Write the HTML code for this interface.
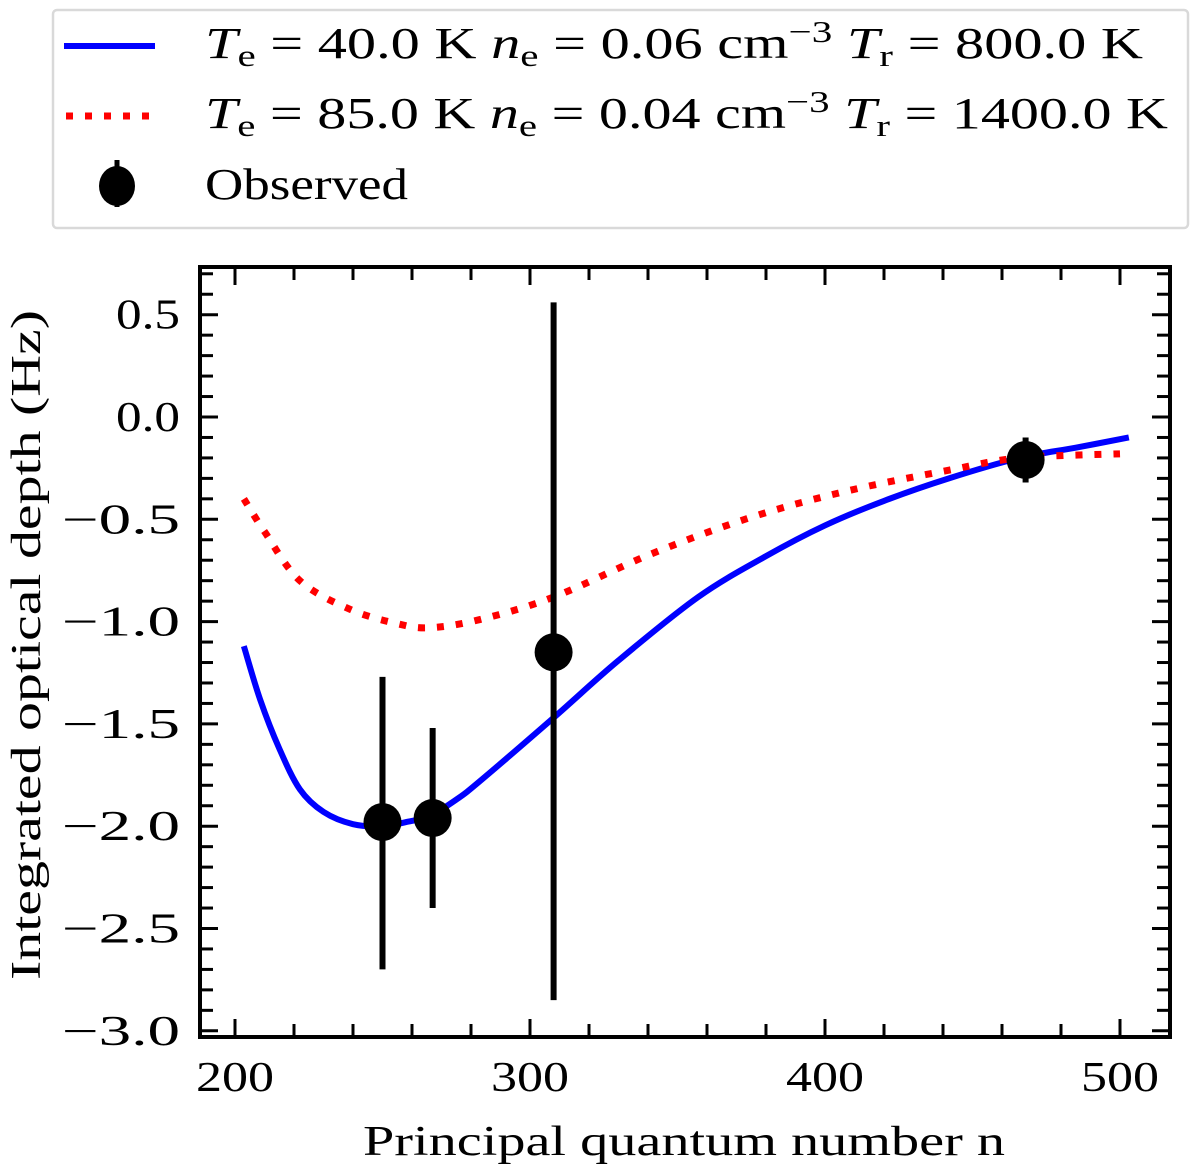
<!DOCTYPE html>
<html><head><meta charset="utf-8"><style>
body{margin:0;background:#fff;}
svg{display:block;font-family:"Liberation Serif","DejaVu Serif",serif;}
</style></head><body>
<svg id="chart" width="1200" height="1173" viewBox="0 0 1200 1173">
<rect x="53" y="10" width="1135" height="218" rx="4" fill="#fff" stroke="#d9d9d9" stroke-width="2.5"/>
<g>
<line x1="64" y1="46" x2="155" y2="46" stroke="#0000ff" stroke-width="6"/>
<text x="205" y="58" font-size="44" textLength="938" lengthAdjust="spacingAndGlyphs"><tspan font-style="italic">T</tspan><tspan font-size="31" dy="8">e</tspan><tspan dy="-8"> = 40.0 K </tspan><tspan font-style="italic">n</tspan><tspan font-size="31" dy="8">e</tspan><tspan dy="-8"> = 0.06 cm</tspan><tspan font-size="31" dy="-16">−3</tspan><tspan dy="16"> </tspan><tspan font-style="italic">T</tspan><tspan font-size="31" dy="8">r</tspan><tspan dy="-8"> = 800.0 K</tspan></text>
</g>
<g>
<line x1="66" y1="116" x2="155" y2="116" stroke="#ff0000" stroke-width="7" stroke-dasharray="7,12"/>
<text x="205" y="128" font-size="44" textLength="963" lengthAdjust="spacingAndGlyphs"><tspan font-style="italic">T</tspan><tspan font-size="31" dy="8">e</tspan><tspan dy="-8"> = 85.0 K </tspan><tspan font-style="italic">n</tspan><tspan font-size="31" dy="8">e</tspan><tspan dy="-8"> = 0.04 cm</tspan><tspan font-size="31" dy="-16">−3</tspan><tspan dy="16"> </tspan><tspan font-style="italic">T</tspan><tspan font-size="31" dy="8">r</tspan><tspan dy="-8"> = 1400.0 K</tspan></text>
</g>
<g>
<line x1="117" y1="160" x2="117" y2="207" stroke="#000" stroke-width="5"/>
<ellipse cx="117" cy="186" rx="18" ry="20" fill="#000"/>
<text x="205" y="199" font-size="44" textLength="203" lengthAdjust="spacingAndGlyphs">Observed</text>
</g>
<g id="plot"></g>
<rect x="200" y="267" width="970" height="770" fill="none" stroke="#000" stroke-width="4"/>
<text x="363" y="1155" font-size="42" textLength="642" lengthAdjust="spacingAndGlyphs">Principal quantum number n</text>
<text transform="translate(40,980) rotate(-90)" font-size="42" textLength="670" lengthAdjust="spacingAndGlyphs">Integrated optical depth (Hz)</text>
</svg>
<script>
const blueN=[203,208.5,215,222,230,240,250,258,266,275,283,308,330,357,380,400,420,442,466,485,503];
const blueV=[-1.12,-1.38,-1.62,-1.82,-1.93,-1.99,-2.0,-1.98,-1.95,-1.87,-1.78,-1.47,-1.19,-0.88,-0.68,-0.53,-0.41,-0.30,-0.20,-0.15,-0.10];
const redN=[203,210,222,239,255,266,283,308,341,375,408,442,466,500];
const redV=[-0.40,-0.56,-0.80,-0.94,-1.01,-1.03,-0.99,-0.88,-0.67,-0.49,-0.36,-0.26,-0.20,-0.18];
const obsN=[250,267,308,468];
const obsV=[-1.98,-1.96,-1.15,-0.21];
const obsLo=[-2.70,-2.40,-2.85,-0.32];
const obsHi=[-1.27,-1.52,0.56,-0.10];
const xTicks=[200,300,400,500];
const yTicks=[0.5,0.0,-0.5,-1.0,-1.5,-2.0,-2.5,-3.0];
const NS="http://www.w3.org/2000/svg";
const X=n=>235+(n-200)*2.95;
const Y=v=>417-v*204.6;
const g=document.getElementById('plot');
function mk(t,a){const e=document.createElementNS(NS,t);for(const k in a)e.setAttribute(k,a[k]);g.appendChild(e);return e;}
for(let n=200;n<=500;n+=20){const maj=n%100===0,L=maj?18:13;
 const t1=mk('line',{x1:X(n),x2:X(n),y1:1037,y2:1037-L,stroke:'#000','stroke-width':3});
 
 
 const t2=mk('line',{x1:X(n),x2:X(n),y1:267,y2:267+L,stroke:'#000','stroke-width':3});
 
 }
for(let i=-30;i<=7;i++){const v=i/10,maj=i%5===0,L=maj?18:13;
 const t1=mk('line',{x1:200,x2:200+L,y1:Y(v),y2:Y(v),stroke:'#000','stroke-width':3});
 
 
 const t2=mk('line',{x1:1170,x2:1170-L,y1:Y(v),y2:Y(v),stroke:'#000','stroke-width':3});
 
 }
xTicks.forEach(n=>{const t=mk('text',{x:X(n)-39,y:1091,'font-size':42,textLength:78,lengthAdjust:'spacingAndGlyphs'});t.textContent=n;
 
 });
yTicks.forEach(v=>{const neg=v<0,w=neg?118:64;const t=mk('text',{x:180-w,y:Y(v)+14,'font-size':42,textLength:w,lengthAdjust:'spacingAndGlyphs'});t.textContent=(neg?'−':'')+Math.abs(v).toFixed(1);
 
 });
function smooth(ns,vs){const p=ns.map((n,i)=>[X(n),Y(vs[i])]);let d=`M${p[0][0]},${p[0][1]}`;
 for(let i=0;i<p.length-1;i++){const p0=p[i-1]||p[i],p1=p[i],p2=p[i+1],p3=p[i+2]||p2;
 d+=` C${p1[0]+(p2[0]-p0[0])/6},${p1[1]+(p2[1]-p0[1])/6} ${p2[0]-(p3[0]-p1[0])/6},${p2[1]-(p3[1]-p1[1])/6} ${p2[0]},${p2[1]}`;}return d;}
const bl=mk('path',{d:smooth(blueN,blueV),fill:'none',stroke:'#0000ff','stroke-width':6});


const rl=mk('path',{d:smooth(redN,redV),fill:'none',stroke:'#ff0000','stroke-width':7,'stroke-dasharray':'7,12'});


obsN.forEach((n,i)=>{
 const e=mk('line',{x1:X(n),x2:X(n),y1:Y(obsHi[i]),y2:Y(obsLo[i]),stroke:'#000','stroke-width':6});
 
 
 const c=mk('ellipse',{cx:X(n),cy:Y(obsV[i]),rx:19,ry:19,fill:'#000'});
 
 });
</script>
</body></html>
